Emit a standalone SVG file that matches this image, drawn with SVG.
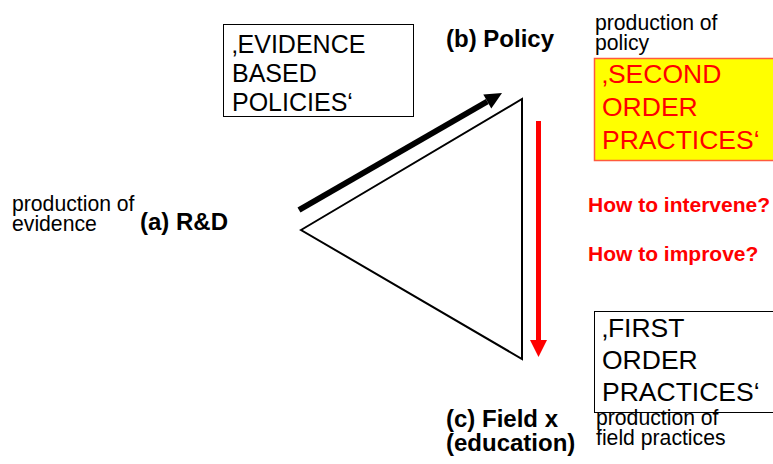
<svg xmlns="http://www.w3.org/2000/svg" width="773" height="464" viewBox="0 0 773 464">
  <style>
    text { font-family: "Liberation Sans", Arial, sans-serif; }
    .box { fill: #ffffff; stroke: #000000; stroke-width: 1; }
    .big { font-size: 25px; fill: #000000; }
    .bigr { font-size: 26.5px; fill: #000000; }
    .red { fill: #ff0000; }
    .small { font-size: 21.2px; fill: #000000; }
    .lbl { font-size: 24px; font-weight: bold; fill: #000000; }
    .q { font-size: 21px; font-weight: bold; fill: #ff0000; }
  </style>
  <defs>
    <marker id="ahBlack" markerUnits="userSpaceOnUse" markerWidth="18" markerHeight="18" refX="0" refY="8" orient="auto" overflow="visible">
      <path d="M0,0 L17,8 L0,16 z" fill="#000000"/>
    </marker>
    <marker id="ahRed" markerUnits="userSpaceOnUse" markerWidth="18" markerHeight="18" refX="0" refY="8.5" orient="auto" overflow="visible">
      <path d="M0,0 L17,8.5 L0,17 z" fill="#ff0000"/>
    </marker>
  </defs>

  <g id="triangle">
    <polygon points="301,230 522,99 522,359" fill="#ffffff" stroke="#000000" stroke-width="2" stroke-linejoin="miter"/>
  </g>

  <g id="connectors">
    <line x1="299" y1="210" x2="487.3" y2="101.5" stroke="#000000" stroke-width="6" marker-end="url(#ahBlack)"/>
    <line x1="538.5" y1="121" x2="538.5" y2="340" stroke="#ff0000" stroke-width="5" marker-end="url(#ahRed)"/>
  </g>

  <g id="evidence-box">
    <rect class="box" x="223.5" y="24.5" width="190" height="92"/>
    <text class="big" x="232" y="53">‚EVIDENCE</text>
    <text class="big" x="232" y="82">BASED</text>
    <text class="big" x="232" y="111">POLICIES‘</text>
  </g>

  <g id="second-order-box">
    <rect x="594.5" y="58.5" width="190" height="102" fill="#ffff00" stroke="#ff5a3c" stroke-width="1.5"/>
    <text class="bigr red" x="602" y="83">‚SECOND</text>
    <text class="bigr red" x="602" y="116">ORDER</text>
    <text class="bigr red" x="602" y="149">PRACTICES‘</text>
  </g>

  <g id="first-order-box">
    <rect class="box" x="594.5" y="311.5" width="190" height="101"/>
    <text class="bigr" x="602" y="337">‚FIRST</text>
    <text class="bigr" x="602" y="369">ORDER</text>
    <text class="bigr" x="602" y="401">PRACTICES‘</text>
  </g>

  <g id="node-rd">
    <text class="small" x="12" y="211">production of</text>
    <text class="small" x="12" y="231">evidence</text>
    <text class="lbl" x="140" y="230">(a) R&amp;D</text>
  </g>

  <g id="node-policy">
    <text class="lbl" x="446" y="47">(b) Policy</text>
    <text class="small" x="595" y="30">production of</text>
    <text class="small" x="595" y="50">policy</text>
  </g>

  <g id="node-field">
    <text class="lbl" x="446" y="427">(c) Field x</text>
    <text class="lbl" x="446" y="451">(education)</text>
    <text class="small" x="596" y="425">production of</text>
    <text class="small" x="596" y="445">field practices</text>
  </g>

  <g id="questions">
    <text class="q" x="588" y="212">How to intervene?</text>
    <text class="q" x="588" y="261">How to improve?</text>
  </g>
</svg>
